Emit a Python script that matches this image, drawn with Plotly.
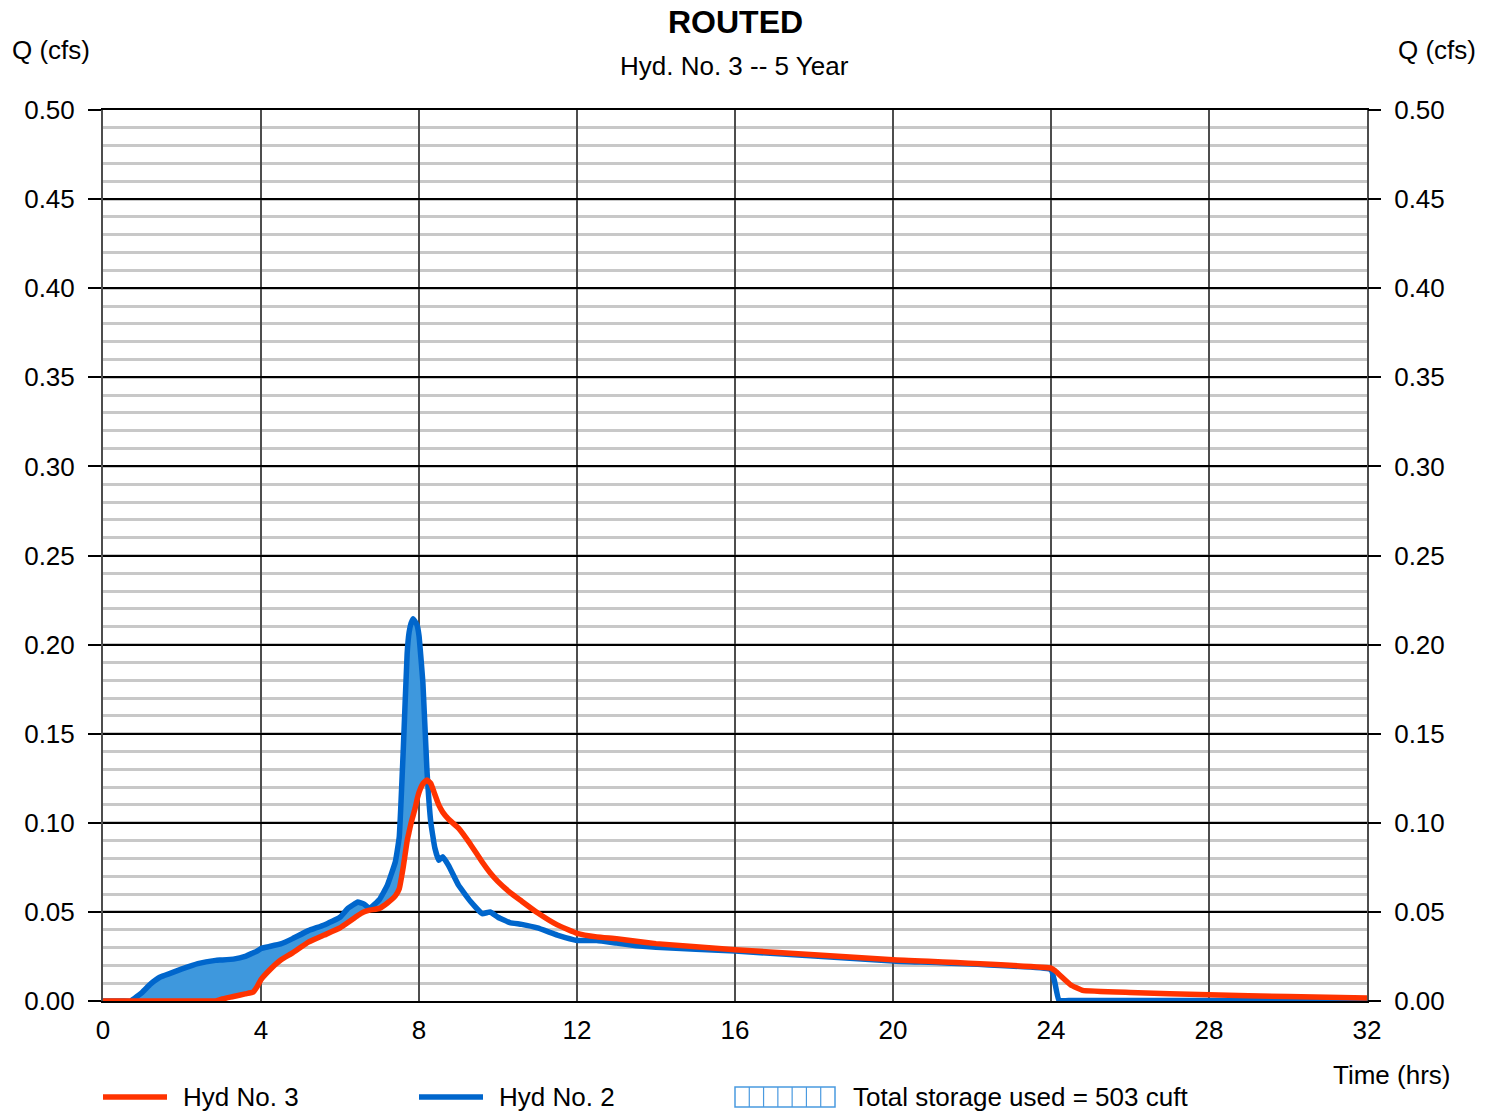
import numpy as np
import plotly.graph_objects as go

# ---- data (hours, cfs) ----
time_hrs = [0, 0.5, 0.7, 1.0, 1.2, 1.45, 1.7, 2.0, 2.4, 2.85, 3.0, 3.3, 3.6, 3.8, 3.9, 4.0, 4.2, 4.5,
            4.8, 5.2, 5.6, 6.0, 6.2, 6.45, 6.6, 6.75, 7.0, 7.2, 7.4, 7.5, 7.6, 7.7, 7.75, 7.8, 7.85,
            7.9, 7.95, 8.0, 8.1, 8.2, 8.3, 8.4, 8.5, 8.6, 8.75, 9.0, 9.3, 9.6, 9.8, 10.0, 10.3,
            10.6, 11.0, 11.5, 12.0, 12.5, 13.0, 13.5, 14.0, 16.0, 20.0, 24.0, 24.1, 24.2, 24.5,
            24.8, 26.0, 28.0, 30.0, 32.0]

hyd2_inflow = [0, 0, 0, 0.005, 0.0095, 0.0135, 0.0155, 0.018, 0.021, 0.0228, 0.023, 0.0235, 0.025,
               0.027, 0.028, 0.0295, 0.0305, 0.032, 0.035, 0.0395, 0.0427, 0.047, 0.052, 0.0555,
               0.0545, 0.052, 0.057, 0.065, 0.078, 0.092, 0.14, 0.195, 0.207, 0.212, 0.2145,
               0.213, 0.211, 0.205, 0.178, 0.13, 0.10, 0.086, 0.079, 0.081, 0.076, 0.065, 0.056,
               0.049, 0.050, 0.047, 0.044, 0.043, 0.041, 0.037, 0.034, 0.034, 0.0325, 0.031,
               0.0302, 0.028, 0.0225, 0.0175, 0.010, 0.0003, 0.0003, 0.0003, 0.0003, 0.0003,
               0.0003, 0.0003]

hyd3_routed = [0, 0, 0, 0, 0, 0, 0, 0, 0, 0, 0.001, 0.0025, 0.004, 0.005, 0.008, 0.012, 0.017, 0.023,
               0.027, 0.033, 0.037, 0.041, 0.044, 0.048, 0.050, 0.051, 0.052, 0.055, 0.059, 0.063,
               0.075, 0.09, 0.095, 0.100, 0.104, 0.108, 0.113, 0.117, 0.122, 0.124, 0.122, 0.116,
               0.110, 0.106, 0.102, 0.097, 0.088, 0.078, 0.072, 0.067, 0.061, 0.056, 0.0495,
               0.0427, 0.038, 0.036, 0.035, 0.0335, 0.0322, 0.0288, 0.0232, 0.0185, 0.017, 0.015,
               0.009, 0.006, 0.0048, 0.0035, 0.0025, 0.0017]

x_ticks = [0, 4, 8, 12, 16, 20, 24, 28, 32]
y_ticks = [0.00, 0.05, 0.10, 0.15, 0.20, 0.25, 0.30, 0.35, 0.40, 0.45, 0.50]

storage_cuft = 503

RED = "#ff3300"
BLUE = "#0066cc"
FILL = "rgb(62,152,221)"
FONT = "Liberation Sans, Arial, sans-serif"
FS = 26

t = np.array(time_hrs)
q2 = np.array(hyd2_inflow)
q3 = np.array(hyd3_routed)
upper = np.maximum(q2, q3)

fig = go.Figure()
# storage fill between inflow and outflow
fig.add_trace(go.Scatter(x=t, y=q3, mode="lines", line=dict(width=0, color=FILL),
                         showlegend=False, hoverinfo="skip"))
fig.add_trace(go.Scatter(x=t, y=upper, mode="lines", line=dict(width=0, color=FILL),
                         fill="tonexty", fillcolor=FILL, showlegend=False, hoverinfo="skip"))
fig.add_trace(go.Scatter(x=t, y=q2, mode="lines", name="Hyd No. 2",
                         line=dict(color=BLUE, width=5.5, shape="spline", smoothing=0.3),
                         showlegend=False))
fig.add_trace(go.Scatter(x=t, y=q3, mode="lines", name="Hyd No. 3",
                         line=dict(color=RED, width=5.5, shape="spline", smoothing=0.3),
                         showlegend=False))
# dummy trace to show the right axis
fig.add_trace(go.Scatter(x=[0], y=[0], yaxis="y2", mode="lines", line=dict(width=0),
                         showlegend=False, hoverinfo="skip"))

L, R, T, B = 103, 1367, 110, 1001
W, H = 1494, 1112


def px(x):
    return (x - L) / (R - L)


def py(y):
    return (B - y) / (B - T)


shapes = []
annotations = []

# legend
shapes.append(dict(type="line", xref="paper", yref="paper", x0=px(103), x1=px(167),
                   y0=py(1097), y1=py(1097), line=dict(color=RED, width=5.5)))
shapes.append(dict(type="line", xref="paper", yref="paper", x0=px(419), x1=px(483),
                   y0=py(1097), y1=py(1097), line=dict(color=BLUE, width=5.5)))
shapes.append(dict(type="rect", xref="paper", yref="paper", x0=px(735), x1=px(835),
                   y0=py(1107), y1=py(1087), line=dict(color="#4a9ae0", width=1.5)))
for i in range(1, 7):
    xx = 735 + i * 100 / 7
    shapes.append(dict(type="line", xref="paper", yref="paper", x0=px(xx), x1=px(xx),
                       y0=py(1107), y1=py(1087), line=dict(color="#4a9ae0", width=1.2)))

legend_texts = [(181, "Hyd No. 3"), (497, "Hyd No. 2"),
                (851, f"Total storage used = {storage_cuft} cuft")]
for xpos, txt in legend_texts:
    annotations.append(dict(xref="paper", yref="paper", x=px(xpos), y=py(1097), text=txt,
                            showarrow=False, xanchor="left", yanchor="middle",
                            font=dict(size=FS, color="black", family=FONT)))

annotations += [
    dict(xref="paper", yref="paper", x=px(735), y=py(22), text="<b>ROUTED</b>", showarrow=False,
         xanchor="center", yanchor="middle", font=dict(size=32, color="black", family=FONT)),
    dict(xref="paper", yref="paper", x=px(734), y=py(66), text="Hyd. No. 3 -- 5 Year",
         showarrow=False, xanchor="center", yanchor="middle",
         font=dict(size=FS, color="black", family=FONT)),
    dict(xref="paper", yref="paper", x=px(10), y=py(50), text="Q (cfs)", showarrow=False,
         xanchor="left", yanchor="middle", font=dict(size=FS, color="black", family=FONT)),
    dict(xref="paper", yref="paper", x=px(1478), y=py(50), text="Q (cfs)", showarrow=False,
         xanchor="right", yanchor="middle", font=dict(size=FS, color="black", family=FONT)),
    dict(xref="paper", yref="paper", x=px(1452), y=py(1075), text="Time (hrs)", showarrow=False,
         xanchor="right", yanchor="middle", font=dict(size=FS, color="black", family=FONT)),
]

yaxis_common = dict(range=[0, 0.5], tickvals=y_ticks, tickformat=".2f", ticks="outside",
                    ticklen=13, tickcolor="black", tickwidth=1.5, ticklabelstandoff=8,
                    tickfont=dict(size=FS, color="black", family=FONT))

fig.update_layout(
    width=W, height=H,
    margin=dict(l=L, r=W - R, t=T, b=H - B, pad=0),
    paper_bgcolor="white", plot_bgcolor="white",
    showlegend=False,
    font=dict(family=FONT, size=FS, color="black"),
    xaxis=dict(range=[0, 32], tickvals=x_ticks, showgrid=True, gridcolor="#4d4d4d", gridwidth=2,
               zeroline=False, showline=True, linecolor="black", linewidth=1.5, mirror=True,
               ticks="", tickfont=dict(size=FS, color="black", family=FONT),
               ticklabelstandoff=5),
    yaxis=dict(**yaxis_common, showgrid=True, gridcolor="black", gridwidth=1.5, zeroline=False,
               showline=True, linecolor="#4d4d4d", linewidth=2, mirror=True,
               minor=dict(dtick=0.01, showgrid=True, gridcolor="#c8c8c8", gridwidth=2.5, ticks=""),
               side="left"),
    yaxis2=dict(**yaxis_common, overlaying="y", side="right", showgrid=False, zeroline=False,
                showline=False),
    shapes=shapes,
    annotations=annotations,
)

fig.write_html("out.html", config={"displayModeBar": False},
               post_script="document.body.style.margin='0';document.body.style.overflow='hidden';")
